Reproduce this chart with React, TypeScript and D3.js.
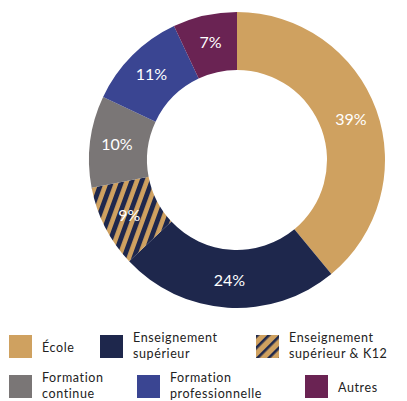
import React, { useEffect, useRef } from 'react';
import * as d3 from 'd3';

const categories = ['École', 'Enseignement supérieur', 'Enseignement supérieur & K12', 'Formation continue', 'Formation professionnelle', 'Autres'];
const values = [39, 24, 9, 10, 11, 7];
const colors = ['#cfa160', '#1e274c', 'url(#stripes)', '#7a7676', '#3a4592', '#6a2353'];
const legendColors = ['#cfa160', '#1e274c', 'url(#stripesLegend)', '#7a7676', '#3a4592', '#6a2353'];
const legendLines = [['École'], ['Enseignement', 'supérieur'], ['Enseignement', 'supérieur & K12'], ['Formation', 'continue'], ['Formation', 'professionnelle'], ['Autres']];

const App = () => {
    const ref = useRef<HTMLDivElement>(null);

    useEffect(() => {
        const root = d3.select(ref.current);
        root.selectAll('*').remove();
        const svg = root.append('svg').attr('width', 407).attr('height', 401)
            .style('position', 'absolute').style('left', 0).style('top', 0);

        const defs = svg.append('defs');
        const p = defs.append('pattern').attr('id', 'stripes').attr('patternUnits', 'userSpaceOnUse')
            .attr('width', 9.4).attr('height', 10).attr('patternTransform', 'rotate(20)');
        p.append('rect').attr('width', 9.4).attr('height', 10).attr('fill', '#cfa160');
        p.append('rect').attr('width', 4.8).attr('height', 10).attr('fill', '#1e274c');

        const pl = defs.append('pattern').attr('id', 'stripesLegend').attr('patternUnits', 'userSpaceOnUse')
            .attr('width', 8).attr('height', 10).attr('patternTransform', 'rotate(45)');
        pl.append('rect').attr('width', 8).attr('height', 10).attr('fill', '#cfa160');
        pl.append('rect').attr('width', 2.6).attr('height', 10).attr('fill', '#1e274c');

        const pie = d3.pie<number>().sort(null).value(d => d);
        const arc = d3.arc<d3.PieArcDatum<number>>().innerRadius(90).outerRadius(148);
        const labelArc = d3.arc<d3.PieArcDatum<number>>().innerRadius(121).outerRadius(121);

        const g = svg.append('g').attr('transform', 'translate(237, 160)');
        const arcs = pie(values);
        g.selectAll('path').data(arcs).enter().append('path')
            .attr('d', arc)
            .attr('fill', (d, i) => colors[i]);

        g.selectAll('text').data(arcs).enter().append('text')
            .attr('transform', d => `translate(${labelArc.centroid(d)})`)
            .attr('text-anchor', 'middle')
            .attr('dy', '0.35em')
            .style('fill', '#fff')
            .style('font-family', 'Lato, sans-serif')
            .style('font-size', '16px')
            .text(d => `${d.data}%`);

        const legendPos = [[9, 335], [100, 335], [256, 335], [9, 375], [137, 375], [305, 375]];
        categories.forEach((c, i) => {
            const [x, y] = legendPos[i];
            const lg = svg.append('g').attr('transform', `translate(${x}, ${y})`);
            lg.append('rect').attr('width', 23).attr('height', 23).attr('fill', legendColors[i]);
            const lines = legendLines[i];
            lines.forEach((l, j) => {
                const base = lines.length === 1 ? 17 : 7 + j * 15.5;
                lg.append('text')
                    .attr('x', 33).attr('y', base)
                    .style('font-family', 'Lato, sans-serif')
                    .style('font-size', '12.5px')
                    .style('fill', '#222')
                    .style('letter-spacing', '0.6px')
                    .text(l);
            });
        });
    }, []);

    return <div ref={ref}></div>;
};

export default App;
